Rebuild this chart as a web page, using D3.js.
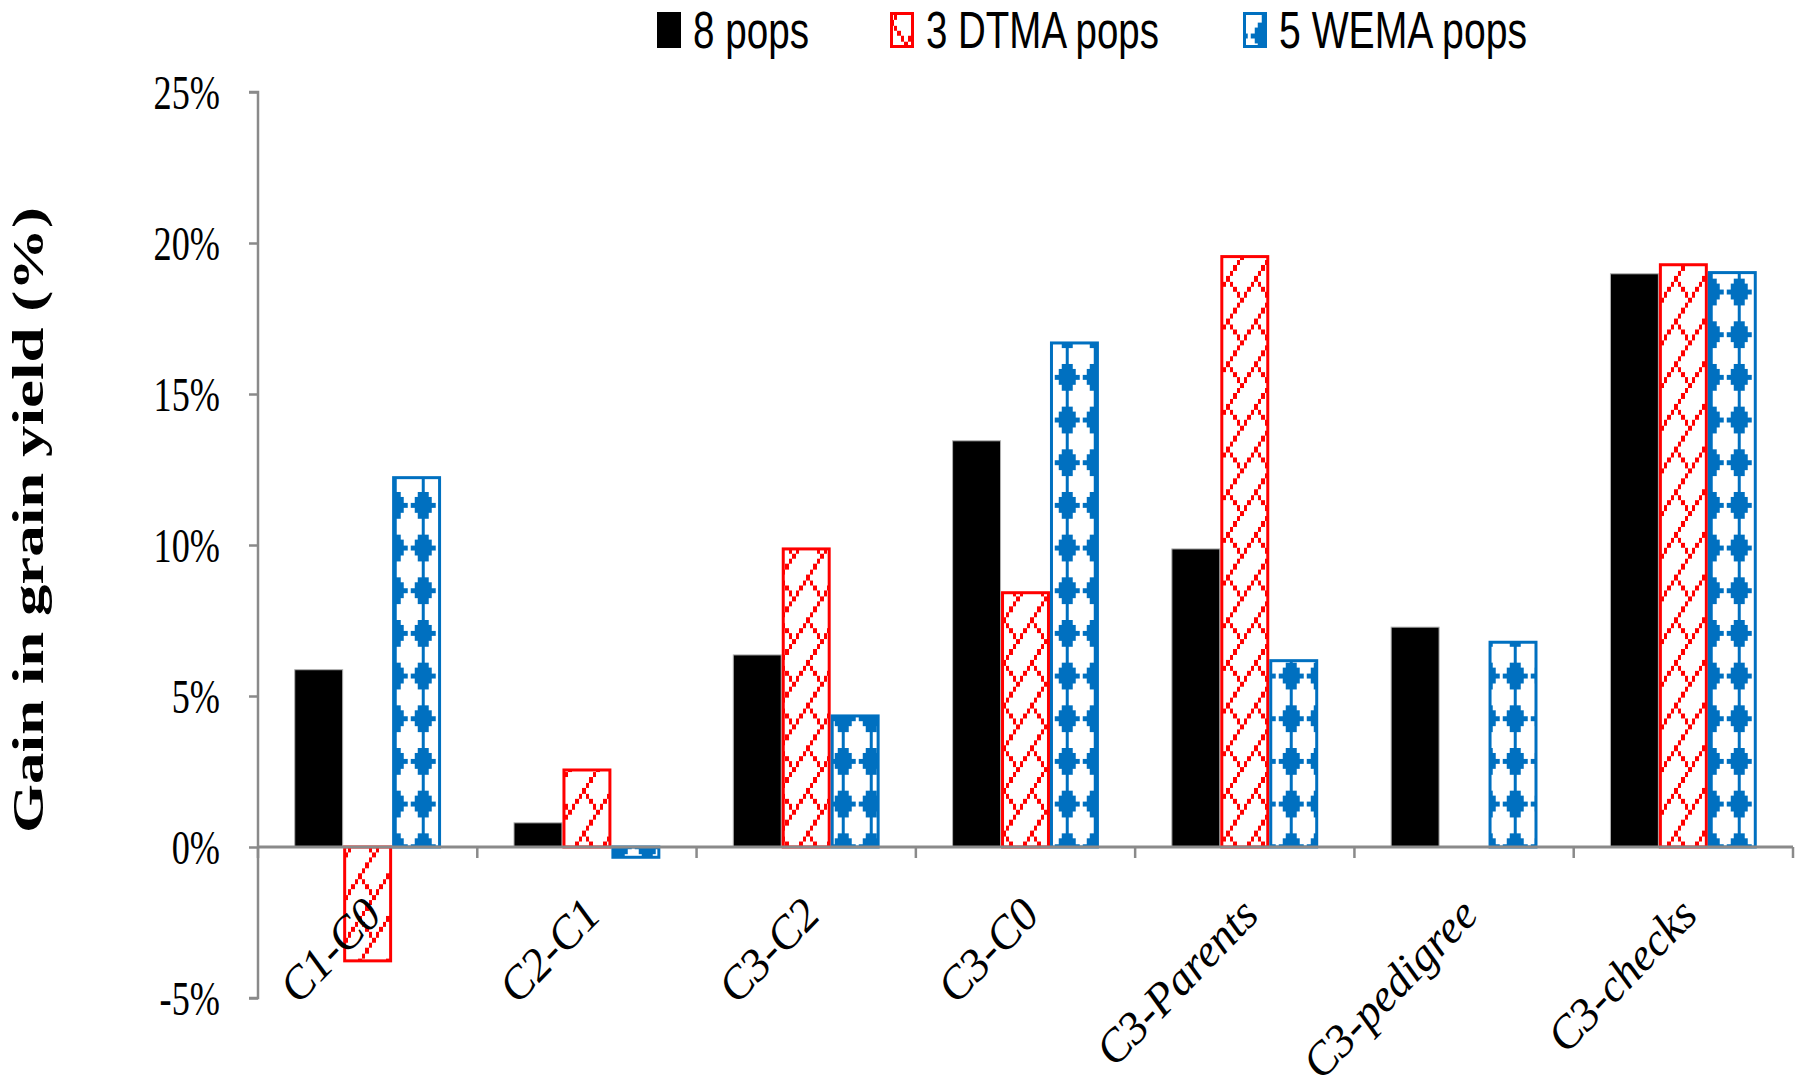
<!DOCTYPE html>
<html><head><meta charset="utf-8">
<script src="https://cdn.jsdelivr.net/npm/d3@7"></script>
<style>html,body{margin:0;padding:0;background:#fff;}svg{display:block;}</style>
</head><body>
<svg id="chart" width="1805" height="1088"></svg>
<script>
const categories = ["C1-C0","C2-C1","C3-C2","C3-C0","C3-Parents","C3-pedigree","C3-checks"];
const seriesNames = ["8 pops","3 DTMA pops","5 WEMA pops"];
const pops8  = [5.87, 0.80, 6.36, 13.45, 9.87, 7.28, 18.98];
const dtma3  = [-3.77, 2.55, 9.87, 8.42, 19.55, null, 19.28];
const wema5  = [12.23, -0.34, 4.34, 16.69, 6.17, 6.78, 19.02];
const yTicks = [-5, 0, 5, 10, 15, 20, 25];
const yTitle = "Gain in grain yield (%)";

const seriesValues = [pops8, dtma3, wema5];
const svg = d3.select("#chart");
const plotL = 258, plotR = 1793, plotT = 92, plotB = 998;

// patterns
const defs = svg.append("defs");
const pxW = 3.5, pxH = 42.67/8;
function bitmapPattern(id, color, rows, ox, oy) {
  const p = defs.append("pattern").attr("id", id).attr("patternUnits","userSpaceOnUse")
    .attr("x", ox).attr("y", oy).attr("width", pxW*8).attr("height", pxH*8);
  p.append("rect").attr("width", pxW*8).attr("height", pxH*8).attr("fill","#fff");
  rows.forEach((cols, r) => cols.forEach(c => {
    p.append("rect").attr("x", c*pxW).attr("y", r*pxH).attr("width", pxW+0.05).attr("height", pxH+0.05)
      .attr("fill", color).attr("shape-rendering","crispEdges");
  }));
}
bitmapPattern("pRed", "#FF0000", [[7],[6],[5],[4],[3,5],[2,6],[1,7],[0]], 8, 4);
bitmapPattern("pBlue", "#0070C0", [[3],[3],[2,3,4],[1,2,3,4,5],[0,1,2,3,4,5,6],[1,2,3,4,5],[2,3,4],[3]], 18.75, 11.7);

const fills = ["#000000", "url(#pRed)", "url(#pBlue)"];
const strokes = ["#b0b0b0", "#FF0000", "#0070C0"];
const strokeW = [1, 3, 3];

const x0 = d3.scaleBand().domain(categories).range([plotL, plotR]).padding(0);
const x1 = d3.scaleBand().domain(d3.range(3)).range([0, x0.bandwidth()]).paddingInner(0).paddingOuter(0.74);
const y = d3.scaleLinear().domain([-5, 25]).range([plotB, plotT]);

// bars
const g = svg.append("g");
categories.forEach((cat, ci) => {
  seriesValues.forEach((vals, si) => {
    const v = vals[ci];
    if (v === null || v === undefined) return;
    const bx = x0(cat) + x1(si);
    const y0 = y(0), yv = y(v);
    g.append("rect")
      .attr("x", bx + strokeW[si]/2).attr("y", Math.min(y0, yv))
      .attr("width", x1.bandwidth() - strokeW[si]).attr("height", Math.abs(y0 - yv))
      .attr("fill", fills[si]).attr("stroke", strokes[si]).attr("stroke-width", strokeW[si]);
  });
});

// y axis
const axisColor = "#8a8a8a";
const yAxis = d3.axisLeft(y).tickValues(yTicks).tickSize(9).tickFormat(d => d + "%");
const ya = svg.append("g").attr("transform", `translate(${plotL},0)`).call(yAxis);
ya.select(".domain").attr("stroke", axisColor).attr("stroke-width", 2.5).attr("d", `M-9,${plotT}H0V${plotB}H-9`);
ya.selectAll(".tick line").attr("stroke", axisColor).attr("stroke-width", 2.5);
ya.selectAll(".tick text").remove();
yTicks.forEach(t => {
  svg.append("text").attr("transform", `translate(220,${y(t)+16.5}) scale(0.74,1)`)
    .attr("text-anchor","end").attr("font-family","'Liberation Serif','Times New Roman',serif")
    .attr("font-size", 49).attr("fill","#000").text(t + "%");
});

// zero line + category ticks
svg.append("line").attr("x1", plotL).attr("x2", plotR).attr("y1", y(0)).attr("y2", y(0))
  .attr("stroke", axisColor).attr("stroke-width", 3);
const bounds = categories.map(c => x0(c)).concat([plotR]);
bounds.forEach(b => {
  svg.append("line").attr("x1", b).attr("x2", b).attr("y1", y(0)).attr("y2", y(0) + 11)
    .attr("stroke", axisColor).attr("stroke-width", 2.5);
});

// category labels
categories.forEach(c => {
  const cx = x0(c) + x0.bandwidth()/2 + 16;
  svg.append("text").attr("transform", `translate(${cx},917) rotate(-46)`)
    .attr("text-anchor","end").attr("font-family","'Liberation Serif','Times New Roman',serif")
    .attr("font-style","italic").attr("font-size", 46).attr("fill","#000").text(c);
});

// y title
svg.append("text").attr("transform", "translate(43,520) rotate(-90)")
  .attr("text-anchor","middle").attr("font-family","'Liberation Serif','Times New Roman',serif")
  .attr("font-weight","bold").attr("font-size", 44).attr("textLength", 626).attr("lengthAdjust","spacingAndGlyphs")
  .attr("fill","#000").text(yTitle);

// legend
const legX = [657, 890, 1243];
const legTextLen = [116, 233, 248];
seriesNames.forEach((n, i) => {
  svg.append("rect").attr("x", legX[i] + strokeW[i]/2).attr("y", 12 + strokeW[i]/2)
    .attr("width", 24 - strokeW[i]).attr("height", 36 - strokeW[i])
    .attr("fill", fills[i]).attr("stroke", i === 0 ? "#000" : strokes[i]).attr("stroke-width", strokeW[i]);
  svg.append("text").attr("x", legX[i] + 36).attr("y", 48)
    .attr("font-family","'Liberation Sans Narrow','Liberation Sans',Arial,sans-serif")
    .attr("font-size", 52).attr("textLength", legTextLen[i]).attr("lengthAdjust","spacingAndGlyphs")
    .attr("fill","#000").text(n);
});
</script>
</body></html>
